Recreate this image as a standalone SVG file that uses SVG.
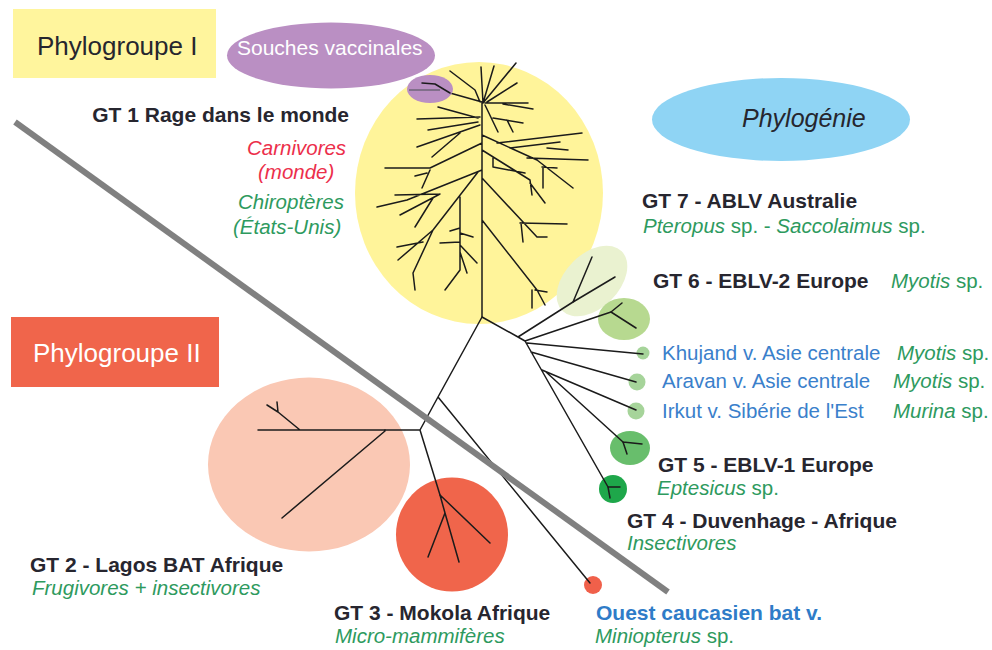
<svg xmlns="http://www.w3.org/2000/svg" width="992" height="650" viewBox="0 0 992 650">
<style>
text{font-family:"Liberation Sans",Arial,Helvetica,sans-serif}
.b{font-weight:bold;fill:#27262f;font-size:21px}
.g{font-style:italic;fill:#2e9a5e;font-size:20.5px}
.r{font-style:italic;fill:#ec2f4b;font-size:20.5px}
.n{font-style:normal}
.bl{fill:#3a80cb;font-size:20.5px}
.tree{fill:none;stroke:#1b1b1b;stroke-width:1.5;stroke-linecap:round;stroke-linejoin:round}
</style>
<rect width="992" height="650" fill="#ffffff"/>

<g id="phylogroupe-1">
<rect x="13" y="9" width="203" height="69" fill="#fff59d"/>
<text x="37" y="55" font-size="26" fill="#26262e">Phylogroupe I</text>
</g>

<g id="phylogroupe-2">
<rect x="11" y="317" width="208" height="70" fill="#f0654b"/>
<text x="33" y="362" font-size="26" fill="#ffffff">Phylogroupe II</text>
</g>

<g id="phylogenie">
<ellipse cx="781" cy="119.5" rx="129" ry="41.5" fill="#8fd4f4"/>
<text x="742" y="127" font-size="25" font-style="italic" fill="#26262e">Phylogénie</text>
</g>

<g id="gt1">
<ellipse cx="479" cy="193" rx="124" ry="131" fill="#fff49a"/>
<path class="tree" d="M482 103L482 317M483 103L481 67M483 103L494 66M483 103L516 63M487 102L517 83M480 102L475 90L450 71M482 102L450 93L435 84L422 83M485 103L528 103M503 104L533 109M485 105L498 132M493 118L523 123M507 120L513 132M480 117L417 119M478 118L438 107M478 122L428 130M480 125L417 147M460 133L432 157M482 143L430 168L385 168M430 170L422 188M427 173L415 176M482 170L407 200L377 207M440 194L395 195M440 194L400 215M433 198L415 227M478 172L433 230L413 273L415 290M433 230L398 260M423 242L397 247M460 197L460 270L445 290M460 228L450 231M460 233L473 237M460 242L440 243M460 245L477 263M460 252L467 273M482 135L537 160L573 188M497 143L582 133M510 148L560 142M547 148L568 150M527 158L588 160M542 167L557 168M543 168L543 188M482 150L530 180L532 195M530 183L545 203M493 158L493 167L525 173M482 178L537 237L547 237M520 223L567 224M521 223L523 242M482 220L537 290L545 305M532 290L532 308M535 290L547 292"/>
<text class="b" x="349" y="122" text-anchor="end">GT 1 Rage dans le monde</text>
<text class="r" x="247" y="155">Carnivores</text>
<text class="r" x="258" y="179">(monde)</text>
<text class="g" x="238" y="209">Chiroptères</text>
<text class="g" x="233" y="234">(États-Unis)</text>
</g>

<g id="souches-vaccinales">
<ellipse cx="331" cy="55.5" rx="104" ry="33" fill="#ba8fc3"/>
<text x="237" y="55" font-size="21" fill="#ffffff">Souches vaccinales</text>
<ellipse cx="430" cy="89" rx="23" ry="14" fill="#ba8fc3"/>
<path d="M409 90L440 90" stroke="#6e6478" stroke-width="1.5"/>
<path class="tree" d="M450 93L435 84L422 83"/>
</g>

<g id="gt7">
<ellipse cx="592" cy="281" rx="42" ry="27" transform="rotate(-45 592 281)" fill="#eaf2d0"/>
<path class="tree" d="M573 302L592 257M573 302L615 277"/>
<text class="b" x="642" y="208">GT 7 - ABLV Australie</text>
<text class="g" x="643" y="233">Pteropus <tspan class="n">sp. - </tspan>Saccolaimus <tspan class="n">sp.</tspan></text>
</g>

<g id="gt6">
<ellipse cx="624" cy="319" rx="26" ry="21" fill="#b7d990"/>
<path class="tree" d="M611 312L622 303M611 312L636 328"/>
<text class="b" x="653" y="288">GT 6 - EBLV-2 Europe</text>
<text class="g" x="891" y="288">Myotis <tspan class="n">sp.</tspan></text>
</g>

<g id="khujand">
<circle cx="643" cy="353" r="6.5" fill="#a6d49a"/>
<text class="bl" x="662" y="360">Khujand v. Asie centrale</text>
<text class="g" x="897" y="360">Myotis <tspan class="n">sp.</tspan></text>
</g>

<g id="aravan">
<circle cx="637" cy="382" r="8.5" fill="#a6d49a"/>
<text class="bl" x="662" y="388">Aravan v. Asie centrale</text>
<text class="g" x="893" y="388">Myotis <tspan class="n">sp.</tspan></text>
</g>

<g id="irkut">
<circle cx="636" cy="411" r="8.5" fill="#a6d49a"/>
<text class="bl" x="662" y="418">Irkut v. Sibérie de l'Est</text>
<text class="g" x="893" y="418">Murina <tspan class="n">sp.</tspan></text>
</g>

<g id="gt5">
<ellipse cx="630" cy="448" rx="20" ry="17" fill="#68be6c"/>
<path class="tree" d="M623 442L642 444M623 442L627 454"/>
<text class="b" x="658" y="472">GT 5 - EBLV-1 Europe</text>
<text class="g" x="657" y="495">Eptesicus <tspan class="n">sp.</tspan></text>
</g>

<g id="gt4">
<circle cx="613" cy="489" r="14" fill="#1ea74a"/>
<path class="tree" d="M608 487L620 487M608 487L610 498"/>
<text class="b" x="627" y="528">GT 4 - Duvenhage - Afrique</text>
<text class="g" x="627" y="550">Insectivores</text>
</g>

<g id="gt2">
<ellipse cx="309" cy="464.5" rx="101" ry="87" fill="#fac8b4"/>
<path class="tree" d="M385 430L258 430M385 431L282 518M300 430L278 412L267 405M278 412L277 402"/>
<text class="b" x="30" y="572">GT 2 - Lagos BAT Afrique</text>
<text class="g" x="32" y="595">Frugivores + insectivores</text>
</g>

<g id="gt3">
<ellipse cx="452" cy="534.5" rx="56" ry="57" fill="#f0654b"/>
<path class="tree" d="M440 495L490 543M440 495L445 513L428 557M445 513L459 562"/>
<text class="b" x="334" y="620">GT 3 - Mokola Afrique</text>
<text class="g" x="335" y="643">Micro-mammifères</text>
</g>

<g id="ouest-caucasien">
<circle cx="593" cy="585" r="9" fill="#f0604a"/>
<text class="b" x="596" y="620" style="fill:#2f7cc8">Ouest caucasien bat v.</text>
<text class="g" x="595" y="643">Miniopterus <tspan class="n">sp.</tspan></text>
</g>

<g id="connectors">
<path class="tree" d="M482 317L438 397L420 430L385 430M438 397L590 583M420 430L440 495M482 317L518 337L573 302M518 337L525 341L608 487M525 341L611 312M527 343L643 354M531 352L636 382M542 370L636 410M546 372L623 442"/>
</g>

<g id="separator">
<line x1="15" y1="122" x2="668" y2="592" stroke="#808080" stroke-width="6"/>
</g>
</svg>
